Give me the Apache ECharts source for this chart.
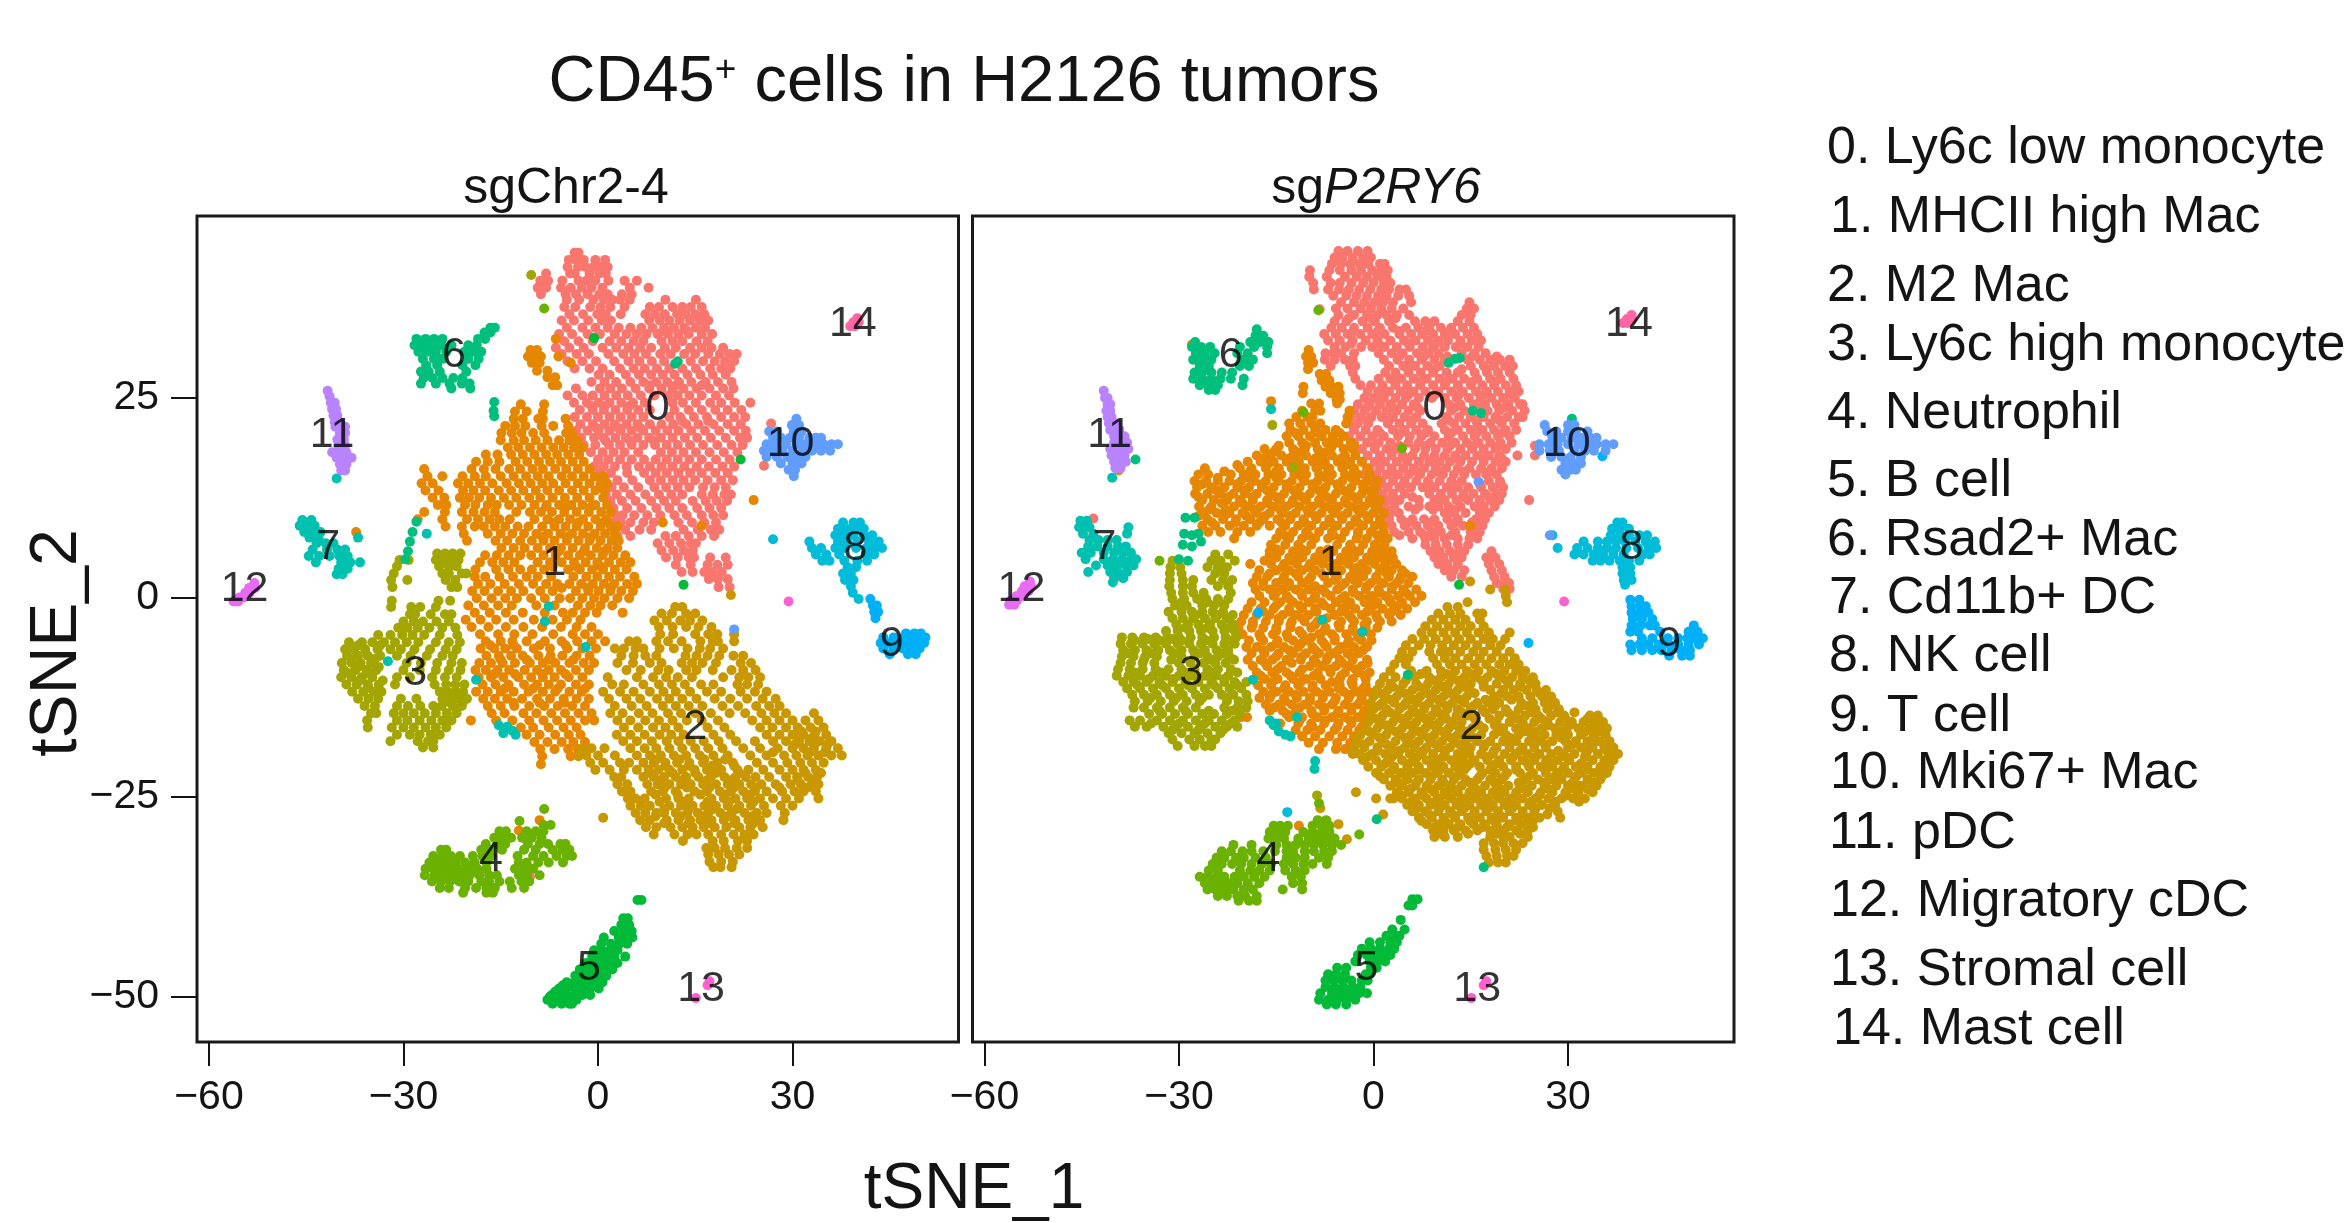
<!DOCTYPE html>
<html><head><meta charset="utf-8"><style>html,body{margin:0;background:#fff}#c{width:2344px;height:1223px}</style>
<script src="https://cdn.jsdelivr.net/npm/echarts@6/dist/echarts.min.js"></script></head><body><div id="c"></div>
<script>
const clusterColors=['#F8766D','#E58700','#C99800','#A3A500','#6BB100','#00BA38','#00BF7D','#00C0AF','#00BCD8','#00B0F6','#619CFF','#B983FF','#E76BF3','#FD61D1','#FF67A4'];
const legendLabels=['0. Ly6c low monocyte','1. MHCII high Mac','2. M2 Mac','3. Ly6c high monocyte','4. Neutrophil','5. B cell','6. Rsad2+ Mac','7. Cd11b+ DC','8. NK cell','9. T cell','10. Mki67+ Mac','11. pDC','12. Migratory cDC','13. Stromal cell','14. Mast cell'];
const xTicks=[-60,-30,0,30];
const yTicks=[-50,-25,0,25];
// rows: [y, x, x, ...]
const L0=[[43.2,-3.6,-3],[42.3,-4.5,-3.4,-2.2,-.4,1.1],[41.4,-4.7,-3.1,-1.9,-.7,.4,1.5],[40.6,-8,-4.3,-3.6,-1.3,.2,1.2],[39.7,-8.9,-7.7,-5.5,-3,-1.8,-.4,1.6,4.1,6],[38.8,-9.3,-8,-5.7,-4.2,-2.5,-1,.7,4.9,7.8],[38,-8.8,-5,-3.4,-1.6,.2,1.5,3.7,5.2],[37.3,-4.8,-2.9,-.7,.9,2.2,3.4,4.9,10.4,15.1],[36.4,-5.2,-3.5,-1.2,.4,1.9,4.1,8,9.4,11.5,13,14.3,16],[35.5,-4.4,-2.3,-.1,1.2,3.5,7.3,8.8,10.3,12.2,13.5,15,16.4],[34.7,-5.6,-3.7,-1.5,.6,2,7.9,9.5,11,12.6,14.2,15.7,17],[33.8,-4.8,-2.4,-.4,1.5,3.2,5,6.7,8.4,10.2,11.7,13.3,15.1,16.5],[33,-6,-4,-1.6,.3,2.6,4.4,6,7.5,9.2,10.8,12.4,14,16,17.6],[32.1,-5.2,-3,-.8,1.8,3.6,5.5,7,9.8,11.5,13,15.2,16.9],[31.3,-6.5,-4.4,-2.2,.7,2.8,4.7,6.5,8.2,10.3,12,14.2,16,17.5,19.3],[30.5,-5.6,-3.3,-1.4,1.6,3.9,5.6,7.4,9.6,11.2,13.3,15,17,18.8,20.3,21.4],[29.6,-4.7,-2.4,-.3,2.5,4.7,6.4,8.3,10.2,14.3,16.2,18,19.6,21],[28.7,-3.6,-1.3,.7,3.4,5.5,7.2,9.1,11,13,15.1,17.3,19,20.4],[27.9,.1,1.8,4.3,6.3,8.2,10,11.8,13.8,15.8,17.7,19.7],[27,-1,1,2.8,5,7,9,10.7,12.5,14.4,16.6,18.5,20.6],[26.2,-3.4,.3,1.9,3.7,5.8,7.9,9.8,11.5,13.2,15.2,17.2,19.3,20.9],[25.3,-4.7,-2.4,-.8,1,2.8,4.6,6.6,8.7,10.8,12.3,14.1,16,18.2,20.2],[24.4,-3.7,-1.7,.1,1.8,3.6,5.4,7.2,11.5,13.1,15.1,17.3,19,21.1,23.5],[23.5,-2.8,-.8,.9,2.7,4.5,6.2,8,11.8,14,16,18.1,20,22.1],[22.6,-3.6,-1.7,0,1.8,3.5,5.2,7,11,12.7,14.8,16.8,19,21,22.7],[21.7,-2.7,-.8,1,2.6,4.4,6.1,8,9.8,11.6,13.6,15.5,17.8,20,22],[20.9,-3.4,-1.6,.1,1.8,3.5,5.2,7,8.9,10.7,12.4,14.4,16.5,18.7,21,22.8],[20,-2.6,-.6,.9,2.7,4.3,6.1,7.9,9.7,11.5,13.4,15.3,17.4,19.7,21.9,23],[19.1,-2.2,-.4,1.7,3.4,5.2,7,8.8,10.6,12.3,14.2,16.2,18.4,20.6,22.3],[18.2,-1.1,.7,2.4,4.1,6.2,9.7,11.4,13.2,15.1,17.2,19.4,21.5],[17.3,0,1.6,3.4,5.2,7.1,8.9,10.6,12.3,14.1,16,18.2,20.3],[16.4,-.6,.9,2.6,4.4,6.3,8,9.8,11.5,13.3,15.2,17.1,19.2,21],[15.6,.4,2,4.5,7.1,8.9,10.6,12.4,14.2,16,18.1,20],[14.7,1.1,3,5.3,8,9.7,11.5,13.2,15,16.9,19,20.8],[13.8,.4,2.1,4,6.2,8.7,10.5,12.3,14.1,16.2,18,19.7],[12.9,1.2,2.9,5,7.3,9.4,11.3,13,16,17.7,19.5,20.5],[12.1,1.9,3.7,5.8,8.2,10.2,12,14.6,16.6,18.3,19.9],[11.2,2.4,4.5,6.7,9,11,13,15.3,17.2,19],[10.3,2.8,3.8,5.6,7.6,9.6,11.8,13.7,16,17.8,19.3],[9.4,2.2,3.5,5,7,8.6,12.4,14.5,16.4,18.2],[8.5,2.6,4.2,6.4,8.2,13.2,15.4,17.4,18.7],[7.7,3,5,10.4,12,14,16,17.9],[6.8,9.2,11,12.8,14.3,15.1],[5.9,9.8,11.6,13.2,14.6],[5,10.5,12.3,14,14.8,17.3,19.7],[4.1,12,14.3,16.9,18.4,20],[3.2,12.9,14.6,16.4,17.7,19.1],[2.3,17.1,18.5,20],[1.3,18.6,20.3],[24,1,4.8,-1],[21.2,-.2,3.2,6.6],[19.6,1.2,5,8.6],[26.6,8,12,16],[33.4,10,13.8],[22.1,13,17]];
const L1=[[32.4,-6.5],[31,-10.4,-9.4],[30.2,-10.8,-9.6,-8.8,-6.1],[29.4,-10.2,-9,-4.2],[28.4,-9.4,-7.8],[27.6,-7.8,-6.6],[26.6,-7,-6.3],[24.2,-11.9,-8.3],[23.3,-12.8,-11,-8.5],[22.4,-13,-11.6,-9.2,-8.5,-5],[21.5,-14.3,-12.8,-11.2,-8.7,-6.9,-4.6],[20.6,-14.9,-13.3,-11.8,-10,-8.3,-4.9,-4],[19.7,-15,-13,-11.4,-9.6,-7.8,-6,-4.4,-3.2],[18.8,-13.9,-12.3,-10.5,-8.7,-6.9,-5.3,-3.7,-2.3],[17.9,-17.3,-15.5,-13.4,-11.6,-9.8,-8,-6.3,-4.6,-2.9],[17,-18.8,-17,-15.2,-12.7,-10.9,-9.1,-7.4,-5.7,-3.9,-2.2],[16.1,-26.8,-19.5,-17.6,-15.8,-13.7,-12,-10.1,-8.5,-6.6,-4.9,-3.1,-1.3],[15.2,-26.3,-24,-20.9,-19,-17.3,-15,-13,-11.1,-9.3,-7.6,-5.6,-4,-2.2,-.5,.8],[14.3,-27.2,-25.5,-21.6,-20,-18.2,-16.3,-14.1,-12.2,-10.4,-8.6,-6.9,-5,-3.1,-1.3,.4,1.4],[13.4,-26.6,-24.6,-20.8,-19.2,-17.4,-15.3,-13.4,-11.5,-9.6,-7.8,-6,-4,-2.2,-.4,1],[12.5,-25.5,-23.7,-21.3,-19.9,-18.3,-16.5,-14.5,-12.6,-10.6,-8.9,-7,-5.1,-3.2,-1.3,.8],[11.6,-24.7,-23.4,-20.5,-18.9,-17,-15.6,-13.7,-11.8,-9.8,-7.9,-6,-4.1,-2.4,-.4,1.4],[10.7,-26.8,-23.6,-21,-19.2,-17.5,-15.9,-12.6,-10.5,-8.8,-7.1,-5.2,-3.3,-1.4,.5,2],[9.8,-24,-20.2,-18.5,-16.7,-15.2,-13.6,-9.8,-7.8,-6,-4.3,-2.3,-.4,1.3],[8.9,-23.5,-21,-19,-17.6,-15.9,-14.3,-12.4,-10.7,-8.6,-6.7,-5,-3.3,-1.5,.4,2,3],[8,-20.7,-17,-15,-13.2,-11.4,-9.5,-7.7,-5.8,-4,-2.3,-.5,1.1,2.6],[7.1,-20.2,-15.8,-14,-12,-10.2,-8.4,-6.7,-4.8,-3,-1.3,.4,2.1,3.2],[6.2,-14.9,-13,-11.3,-9.3,-7.4,-5.7,-3.9,-2,-.2,1.5,3],[5.3,-17.4,-15.6,-13.8,-12,-10.3,-8.4,-6.5,-4.6,-2.8,-1.1,.7,2.4,4.2],[4.4,-18.2,-16.3,-14.6,-12.9,-9.3,-7.4,-5.6,-3.7,-1.9,-.1,1.7,3.5,5],[3.5,-18.9,-15.7,-13.8,-12,-10.2,-8.3,-4.6,-2.8,-.9,.8,2.6,4.4],[2.6,-19,-17.4,-15.2,-13.1,-11,-9.3,-7.2,-3.8,-1.8,-.1,1.7,3.4,5.6],[1.7,-18.5,-16.6,-14.4,-12.2,-10,-8,-6.3,-4.4,-2.6,-.8,.9,2.5,4.5,6],[.8,-19.4,-17.5,-15.4,-13.4,-11.5,-8.9,-7,-3.4,-1.5,.1,1.9,3.6,5.4],[-.1,-18.7,-16.4,-14.3,-12.5,-10.3,-8.2,-5.9,-4.3,-2.4,-.6,1,3,4.8],[-1,-20,-17.6,-15.4,-13.3,-9.5,-6.7,-3.1,-1.2,.4,2.2],[-1.9,-19,-16.7,-14.2,-11.6,-8.2,-5.4,-3.9,-2,-.2,3.8],[-2.8,-20.4,-18.1,-15.7,-13,-9.9,-7,-4.8,-2.7],[-3.7,-19.5,-16.9,-14.2,-11.5,-8.6,-5.7,-3.3,-1],[-4.6,-18.2,-15.4,-12.9,-10.1,-6.9,-3.9,-2,0],[-5.5,-17.3,-15,-13.2,-11,-8.2,-5.6,-3.2,-1,1.1],[-6.4,-18.1,-16,-14.3,-12.5,-9.9,-7.4,-4.7,-2.4,-.3],[-7.3,-17.2,-15.3,-13.4,-11.6,-9.2,-7.3,-5.5,-3.3,-1.3],[-8.2,-18.3,-16.5,-14.7,-12.8,-10.5,-8.5,-6.6,-4.4,-2.2,-.6],[-9.1,-18.9,-17.3,-15.5,-13.7,-11.3,-9.4,-7.6,-5.7,-3.4,-1.4],[-10,-18.4,-16.5,-14.6,-12.3,-10.3,-8.5,-6.7,-4.5,-2.4],[-10.9,-17.8,-15.8,-13.8,-11.4,-9.4,-7.6,-5.7,-3.4,-1.4],[-11.8,-18.8,-17,-15,-13,-10.7,-8.5,-6.6,-4.4,-2.5],[-12.7,-17.7,-15.9,-14,-11.7,-9.4,-7.4,-5.3,-3.3,-1.4],[-13.6,-17,-15,-12.9,-10.6,-8.3,-6.2,-4,-2],[-14.5,-16.4,-14.4,-11.5,-9.5,-7.2,-5.1,-3,-1],[-15.4,-15.7,-19.6,-13.2,-10.6,-8.4,-6.3,-4.2,-2,-.6],[-16.3,-11.9,-10,-7.6,-5.3,-3.3],[-17.2,-11,-9,-6.6,-4.5,-2.7],[-18.1,-9.8,-7.8,-5.6,-3.8,-2],[-19,-8.9,-6.7,-4.6,-3.1],[-19.9,-8.6,-4.2,-3],[-20.9,-8.8],[-6,-16.6,-13,-9,-5],[-7.8,-15,-11,-7.6,-3.8],[-9.6,-16,-12.8,-8.6,-5],[-11.4,-14.4,-10,-6.2,-2],[-13.2,-13,-9,-5.2],[11.4,-8,-4.8,-1],[9.4,-6.8,-3,.8],[7.6,-8.6,-4.8,-1],[5.8,-6,-2.2,1],[3.9,-7,-3.4,.4],[1.2,-5.6,-1.6,2]];
const L2=[[.3,20.5],[-1.2,13,11.9],[-2,9.8,11.4,13.6,15],[-2.9,8.7,10.6,12.7,14.2,16.1],[-3.7,9.4,11.5,13.6,15.5,17.5],[-4.6,9.6,11.6,15,17,18.4,21],[-5.5,4.8,6,9,10.8,12.9,15.8,17.7,18.5,21],[-6.4,2.6,4,5.8,7,9.5,11.7,13.8,15.7,17.3,19.3],[-7.3,3.6,5.5,7.3,9,13.5,15.2,16.9,18.7,20.9,22.4],[-8.2,3,5.4,8,9.8,12.9,14.5,16.1,18.2,22,23.6],[-9.1,4.4,6.6,9.3,10.9,13.6,15.2,17.7,20.6,22.4,24.3],[-10,1.5,6,8.5,10.5,12.3,14.5,19.3,21.8,23.2,25],[-10.9,2.2,4,7,9.4,11.4,13.4,15.9,17.8,21.5,23,24.7],[-11.8,.8,3.4,5.5,8,10.1,12,14.2,16.8,19,22,24.2,26],[-12.7,1.7,4.4,6.5,9.1,11,13,15.2,18,20.4,23,25.4,27.4],[-13.6,2.6,5.2,7.5,10,12,14,16.1,19.2,21.6,24.4,26.4,28],[-14.5,1.9,3.8,6.3,8.4,10.8,12.8,15,17.4,20.3,22.7,25.2,27.2,29,33.3],[-15.4,3,5,7.3,9.4,11.5,13.7,16,18.5,23.8,26,28,30,32,34],[-16.3,4,6.2,8.5,10.4,12.4,16.9,19.5,25,26.9,29,30.8,32.8,34.8],[-17.2,2.9,5,7.2,9.5,11.3,13.2,17.8,20.4,26,28,30,31.7,33.4,35.2],[-18,3.9,6,8.3,10.6,12.4,14.3,16.3,18.6,21.3,24.2,27,29,31,32.6,34.2,36],[-18.9,-2.3,-1,1,5,7.2,9,11,13,15,17,19.2,22.4,25,27.7,30,31.7,33.3,35.2,37],[-19.8,-3,-1.8,0,2.6,6,8,9.7,11.7,13.6,15.7,17.8,20,23.5,26,28.7,30.6,32.3,34,36,37.6],[-20.7,-1.2,.8,3.4,4.8,7,8.6,10.4,12.2,14.1,16.2,18.4,20.8,24.5,27,29.2,31.2,33,34.8],[-21.6,-.4,1.8,4,6,7.8,9.3,11,13,14.9,16.8,19,21.5,23.2,25.5,28,30,31.7,33.6],[-22.5,2.5,3.6,7,8.6,10.2,12,13.6,15.5,17.4,19.5,21.2,22.8,24.3,26.4,29,30.7,32.4,33.8],[-23.4,3,4.5,7.6,9.2,11,12.8,14.3,16.2,18.2,20,21.8,23.6,25.2,27.4,29.7,31.3,33,34],[-24.3,3.7,5,8.2,10,12,14.9,16.8,18.8,20.5,22.4,24.2,26,28.4,30.3,31.7,33.6],[-25.2,4.6,5.8,7.2,10.5,12.4,14,17.5,19.4,21.2,23,25,27,29,31,34],[-26.1,5,6.6,8,11,12.8,14.6,16.4,18.2,20,21.8,23.6,25.6,28.2,30],[-27,5.8,7.3,9,10.2,12,13.8,15.4,17,18.9,20.6,22.6,24.5,26,28.8],[-27.6,.8],[-27.9,6.5,8,10.6,12.4,14.2,15.8,17.5,19.4,21.2,23.2,25,28.6],[-28.8,7.4,9,11.2,13,14.6,16.3,18,19.8,21.8,23.5,25.4],[-29.7,8.6,11.8,13.8,15.2,17,19,20.9,22.6,24],[-30.5,13.1,17.7,19.4,21.6,23],[-31.4,16.7,18,19.6,21.4,23],[-32.2,17,18.6,20.2,21.8],[-33.1,17.2,19,20.8],[-33.8,17.8,18.9,20.6],[-20.3,9,12.6,16.4,19.6],[-21.1,10.4,14,17.6,21],[-22,8,11.5,15,18.2,21.8,32,34.4],[-22.9,9.6,13,16.8,20.4,30.8,33.4],[-23.8,10.3,13.7,17.2,21,24.4,28,32.4],[-24.7,8.9,12.3,15.8,19.6,23.4],[-25.6,9.5,13.3,16.9,20.2,24],[-26.5,10.2,14,17.8,21.4],[-27.4,8.9,12.8,16.4,20,23.8],[-28.3,10.2,14,17.2,21,24],[-19.4,32.7,35,27],[-18.4,30.4,33.4,35.4],[-17.6,31,33],[-16.8,31.4,33.6]];
const L3=[[5.5,-24.8,-23.6,-22.4,-21.2],[4.7,-30.6,-29.2,-25,-23.9,-22.6,-21.5],[3.9,-31,-24.5,-23,-21.8],[3,-31.5,-24,-23,-21,-20.3],[2.2,-31.9,-29.4,-23.5,-22],[1.3,-31.7,-22.6,-21.7],[-.4,-31.8,-24.6,-22.8],[-1.2,-31.9,-28.8,-27.4,-25],[-2.1,-29,-28.2,-25.8,-23.6,-22.6],[-3,-30,-28.4,-27,-24.9,-23],[-3.8,-30.8,-29.4,-27.8,-26,-24,-22],[-4.7,-33.9,-32,-30.2,-28.6,-26.8,-24.4,-21.7],[-5.6,-38.4,-36.4,-34.8,-33,-31.3,-29.5,-27.7,-25,-23,-21.3],[-6.5,-39,-37.6,-35.9,-34,-32,-30.4,-28.3,-25.9,-23.5,-21.8],[-7.3,-38.7,-37,-35.5,-33.6,-31,-28.9,-26.4,-24,-22.4],[-8.2,-39.5,-38,-36.6,-35,-29.5,-27.3,-24.8,-22.6,-21],[-9.1,-39.2,-37.4,-35.7,-34.2,-30,-27.5,-25,-23,-21.2],[-10,-39.6,-38,-36.4,-34.8,-31,-29,-25.6,-23.6,-21.8],[-10.9,-38.8,-37.2,-35.5,-33.8,-31.3,-25.2,-23.4,-22,-20.6],[-11.8,-37.9,-36.2,-34.6,-33.4,-24.4,-23.2,-22,-20.8],[-12.7,-37,-35.4,-33.9,-30.4,-28,-24,-22.8,-21.6,-20.2],[-13.6,-36,-34.4,-31,-29.3,-27.4,-25.4,-24.1,-22.4,-21],[-14.5,-35,-34.2,-31.5,-30,-28.4,-26.7,-25,-23.3,-21.8],[-15.4,-35.6,-31,-29.4,-27.5,-25.7,-24,-22.6],[-16.3,-35.5,-31.8,-30,-28.4,-26.6,-25,-23.4],[-17.2,-31,-29,-27.5,-25.8,-24.4],[-18,-32,-27.8,-26.2,-25.4],[-18.8,-27,-25.4],[-6,-37,-33.6],[-7.7,-38,-34.4],[-8.7,-37,-33.8],[-9.5,-38.4,-35.2],[-10.4,-36.8,-33.2],[-11.3,-35.4],[-12.2,-23.5,-21],[-13.1,-23,-20.8]];
const L4=[[-26.5,-8.3],[-28,-12.1],[-28.5,-7.3,-8.4],[-29.3,-15.2,-14.2,-11,-9.6,-8.4],[-30.1,-16,-14.8,-13.4,-11.7,-10.2,-8.7],[-30.9,-17.3,-15.6,-14.3,-10.8,-9,-7.7,-5.8,-5],[-31.6,-24.2,-23.4,-18,-16.6,-14.8,-11.4,-9.6,-7,-5.5,-4.4],[-32.4,-25.4,-24,-22.7,-21.3,-19.3,-17.8,-16.4,-12.4,-10,-8.4,-6.4,-4.8,-4],[-33.2,-26,-24.8,-23.4,-22,-20.5,-19,-17.2,-12.2,-11,-9.2,-7.6,-5.4],[-34,-26.6,-25.4,-24.2,-23,-21.6,-20.2,-18.6,-17.2,-12.8,-11.4,-10],[-34.8,-26.7,-25.2,-23.9,-22.4,-21,-19.8,-18.3,-16.8,-15.6,-12.2,-11,-9],[-35.6,-25.6,-24.2,-22.8,-21.4,-20,-18,-16.8,-15.2,-13.6,-11.8,-10.6],[-36.4,-24.4,-23,-20.5,-18.8,-17.2,-15.9,-13.3,-11.4],[-37,-20.8,-17.2,-16.2],[-33.6,-25,-22.6,-20],[-34.4,-24.6,-21.8,-19.2],[-35.2,-23.2,-20.4]];
const L5=[[-37.9,6.1,6.7],[-40.2,3.9,4.6],[-41,3.6,4.8],[-41.8,2.5,4,5.2],[-42.6,.9,3.2,4.4,5.3],[-43.4,.5,2,3.3,4.5],[-44.2,-.6,.6,1.8,3],[-45,-.9,.3,1.5,2.5,4.2],[-45.8,-1.8,-.5,.7,1.8,3],[-46.6,-2.8,-1.5,-.3,.9,2.2],[-47.4,-3.5,-2.2,-1,.2,1.3],[-48.2,-4.8,-3.5,-2.4,-1.2,0,.7],[-49,-6,-4.9,-3.6,-2.4,-1.2,.1],[-49.8,-7.1,-6,-4.8,-3.6,-2.4,-1.2],[-50.4,-7.8,-6.7,-5.5,-4.4,-3.3],[-50.9,-7,-5.6,-4.4,-4],[-49.4,-6.6,-5.2,-3],[-48.6,-5.4,-3.6],[-50,-7.4,-5.2,-3.8],[-47,-2.4,-.4],[-46,-1,1]];
const L6=[[33.8,-16.6,-15.9],[33.2,-17.5,-16.6],[32.4,-28,-26.6,-25.3,-24,-18.5,-17.4],[31.6,-28.3,-27,-25.6,-24.2,-22.6,-20,-18.7],[30.8,-27.7,-26.3,-25,-23.4,-20.6,-19.2,-18],[29.9,-27,-25.3,-24,-20,-18.4],[29.1,-26.5,-24.8,-20.9,-18.9],[28.3,-27.3,-26.1,-24.4,-20.3],[27.5,-26.9,-25.5,-24,-22.3,-20.9],[26.8,-27.3,-25,-22.9,-21,-19.8],[26.2,-22.6,-19.7]];
const L7=[[9.7,-45.6,-44.2],[9,-46,-45,-43.7],[8.2,-45.3,-44,-42.8],[7.5,-44.5,-43.1,-37],[6.8,-43.4,-42,-40.8],[6,-44,-41.8,-40.2,-39],[5.2,-44.6,-43,-41.4,-39.9,-38.6],[4.4,-43.5,-39.6,-38.2,-36.7],[3.6,-40,-38.6],[2.9,-40.3,-39.4]];
const L8=[[9.4,37.8,39.4,40.4],[8.6,37,38.3,39.6,41],[7.8,36.6,38,39.4,41,42.3],[7.3,27],[7,32.6,37,38.4,40,41.8,43.3],[6.2,33,34.4,36.6,38,39.8,41.4,42.6,43.8],[5.4,33.6,35.2,37.2,41.3,42.6],[4.6,34.6,35.7,38,40,41.5],[3.8,38.5,39.8],[3,37.8,39],[2.2,38.1,39.4],[1.4,39],[.6,39.3],[-.2,40.2]];
const L9=[[-.2,42],[-1,42.4,43],[-1.8,42.6,43.2],[-2.6,42.8],[-4.5,47.5,48.8,49.8],[-5,44,45.6,47.2,48.4,49.7,50.5],[-5.7,43.6,45,46.4,47.6,49,50.3],[-6.4,44,45.6,47,48.2,49.6],[-7.1,45,47.8,49]];
const L10=[[22.4,30.6],[21.6,29.9,31],[20.8,26.4,27.6,30.2,31.4],[20,27,28.2,29.6,31,32.6,33.6,34.4],[19.2,26,27.4,29,30.6,32,33.5,34.8,36,37],[18.4,25.6,27,28.4,30,31.6,33,34.4,35.8],[17.6,26,27.6,29.2,30.6,32],[16.8,28.2,30,31.4],[16,29.4,30.4],[15.2,30.2]];
const L11=[[25.9,-41.7],[25.2,-41.4],[24.4,-41.2,-40.6],[23.6,-41,-40.4],[22.8,-40.8,-40.2],[22,-40.6,-39.9],[21.4,-40.5,-39.6,-39],[20.6,-39.8,-39],[19.8,-40.2,-39.2],[19,-40,-39],[18.2,-41,-39.8,-38.8],[17.5,-40.3,-39.2,-38],[16.7,-39.8,-38.8],[15.9,-39.6,-39]];
const L12=[[1.8,-53],[1.2,-53.8,-52.9],[.6,-54.4,-53.7],[0,-55.3,-54.6],[-.5,-56.2,-55.5]];
const L13=[[-48.1,17.2],[-48.6,16.9],[-50.2,15.1]];
const L14=[[35,40],[34.5,39.4,40.2],[34,38.9,39.6]];
// stray cells of the first panel: cluster, x, y
const Lstray=[[3,-10.3,40.4],[4,-8.3,36.2],[5,-.6,32.5],[6,12.3,29.6],[6,11.9,29.3],[5,22,17.3],[1,24,12.2],[13,29.4,-.5],[7,-26.4,8],[6,-28,9.5],[6,-28.6,8.2],[6,-29,7],[6,-29.3,5.8],[6,-29.7,4.8],[1,-27.8,9.8],[6,-16,24.5],[6,-16.1,23.4],[6,-16,22.7],[7,-40.3,14.9],[5,13.2,1.6],[7,-7.6,-1.1],[7,-8.2,-3],[7,-1.9,-6.2],[7,-32.4,-8],[7,-18.8,-10.3],[7,-15.3,-16],[7,-14,-16.2],[7,-14.6,-17],[7,-13.2,-16.7],[7,-12.7,-17.2],[1,-9,-27.9],[1,-12.2,-29.2],[0,-10.5,-35],[10,21,-4],[0,26.7,21.8],[0,25.6,16.5],[1,10,9.4],[1,16,9],[1,-37.3,8.2]];
const R0=[[43.4,-5.4,-4,-2.4,-.9],[42.6,-6,-4.8,-3.2,-1.6,-.4],[41.8,-6.4,-5,-3.6,-2.2,-.8,1,1.7],[41,-9.8,-6.8,-5.2,-3.4,-1.9,-.2,1.2,2.2],[40.2,-9.9,-7.2,-4.4,-2.6,-1,.6,2],[39.4,-9.3,-6.6,-5.2,-3.4,-1.6,0,1.6,2.6],[38.6,-9.2,-7,-5.3,-3.8,-2.2,-.5,1.2,2.4,4,5],[37.8,-6.2,-4.2,-2.6,-1,.7,2,3.8,5.5],[37,-5,-3,-1.4,.1,1.5,3,5.8,14.8],[36.2,-5.8,-4,-2,-.4,1.2,2.8,4.6,14.4,15.5],[35.4,-5.4,-3,-1,.6,2,3.6,5.5,13.6,15],[34.6,-6,-4.2,-1.7,.2,2.4,6.4,8,9.4,13,14.8],[33.8,-6.5,-4.9,-3,-.9,1,3,5,6.9,8.6,10.4,12,13.8,15.5],[33,-7.6,-5.8,-4,-2,-.2,1.7,4,5.8,7.5,9.2,11,12.6,14.5,16],[32.2,-7,-5.2,-3.2,-1.2,.6,2.6,4.7,6.5,8.4,10,11.5,13.4,15.2,16.6],[31.4,-6,-4.3,-1.9,-.2,1.7,3.6,5.6,7.6,9.2,11,12.7,14.5,16.2],[30.6,-7.4,-6.2,-5,-3,.8,2.8,4.5,6.7,8.5,10,13.6,15.6,17.3],[29.8,-7.5,-6,-4.4,-3.2,1.6,3.7,5.5,7.4,9.4,11,14.5,16.4,18,19.5,21],[29,-6.6,-3.6,-2.8,2.4,4.6,6.4,8.3,10.2,15,17,18.6,20.3,21.5],[28.2,-3.2,1.8,3.4,5.4,7.3,9.2,11.3,13,15.6,17.5,19.2,21],[27.4,-2.8,.8,2.6,4.3,6.2,8.2,10.2,12.2,14,16,18,19.6,21.6],[26.6,-2,-.4,1.4,3.4,5.2,7.2,9.2,11,13,15,16.8,18.6,20.4,22],[25.8,-.9,.7,2.4,4.2,6.2,8,10,12,13.8,15.8,17.5,19.2,21,22.4],[25,-1.4,.1,1.6,3.4,5,7,9,11,12.8,14.7,16.5,18.2,20,21.8],[24.2,-2.4,-.6,1,2.6,4.4,6.2,11.6,13.4,15.5,17.2,19,20.8,22.6,23],[23.4,-3,-1.4,.4,2,3.6,5.4,7.2,12,14,17.6,19.4,21.4,23.3],[22.6,-3.5,-2,-.3,1.3,3,4.8,6.6,11.2,13.2,15,17,18.8,20.6,22.4,23],[21.8,-3.8,-2.4,-.8,2.2,4,5.8,7.6,10.5,12.4,14.2,16,18,19.8,21.7],[21,-3,-1.2,.6,3,4.8,6.6,8.4,11,13,15,16.8,18.6,20.4,22],[20.2,-3.8,-2,-.2,1.6,3.8,5.6,7.4,9.4,11.6,13.8,15.6,17.4,19.2,21],[19.4,-3,-1,.8,2.6,5.4,7,8.8,10.6,12.6,14.4,16.2,18,19.6,21.3],[18.6,-1.8,.2,2,3.4,6.4,8,9.6,11.4,13.4,15.2,17,18.8,20.4],[17.8,-.9,1,2.8,4.5,6,7.8,9.4,11,12.6,14.2,16,17.8,19.4,22.2],[17,-1.8,.2,1.8,3.6,5.2,7,8.6,10.2,11.8,13.4,15.2,17,18.8,20.4],[16.2,-.6,1,2.8,4.6,6.2,7.8,9.6,11.2,13,14.8,16.6,18.2,19.8],[15.4,-1.4,.4,2,3.8,5.4,7.2,9,10.7,12.4,14,15.8,17.4,19],[14.6,-.4,1.2,3,4.8,6.6,8.4,10.2,12,13.6,17.8,19.5],[13.8,.6,2.2,4,5.8,7.6,9.4,11.3,13,14.6,16.6,18.4,20],[13,-.2,1.4,3,4.8,8.6,10.4,12.1,13.9,15.4,17.2,19,19.8],[12.2,.8,2.4,4,7,9.4,11,12.8,14.6,16.4,18,19.4,24],[11.4,1.6,3.2,5.4,7,8.6,10,11.6,13.4,15.6,17,18.7],[10.6,2.6,3.9,11,12.4,14.2,16.4,17.8],[9.8,2.4,4.3,6,7.8,9.4,11.4,13,15.8,17.2],[9,2.8,4.8,6.6,8.4,10,12,13.8,15.4,16.8],[8.2,3.2,5.4,7.2,9,10.4,12.6,15,16.4],[7.4,6,8,9.4,11,13,14.8,16],[6.6,8,9.6,11.3,13,14.6],[5.8,8.8,10.2,11.8,13.2,14,18.2],[5,9.4,10.8,12.4,13.6,17.4,18.8],[4.2,10,11.4,13,17.8,19.4],[3.4,11,12.4,14,18.2,19.8],[2.6,12,13.6,18.6,20.2],[1.8,19,20.4,20.9],[1.1,20,21],[35,-3.8,-.4,3.4],[33.4,-3,.7,4,8,11.7],[31.8,-3.4,.8,5.4,9.6,13.4],[30.2,4,7.8,11.4,15.2,19],[28.6,5.4,9.4,13.6,17.4],[27,3.3,7.2,11.2,15.2,18.8],[25.4,1.6,5.4,9.4,13.2,17,21],[23.8,-1,3,6.8,12.6,16.2,20.2],[22.2,-1,2.4,6,11.6,15.8,19.4],[20.6,1,4.2,8,12,15.9,19.8],[19,.2,4,8,11.8,15.4,19.3],[17.4,1,5,9.2,12.8,17,19.8],[15.8,2.8,6.6,10,14,18],[14.2,1,4.6,8.6,12.4,16.4,19.6],[12.6,3,6,10.2,13.8,17.8],[11,2,6.4,9.2,12.6,16.4],[9.4,5.4,8.8,12.6,15.2],[7.8,4,7.8,12,15.2]];
const R1=[[31,-10],[30.2,-10.4,-9.6],[29.4,-10.1,-9.3],[28.6,-10.1],[28,-8.3,-7.3],[27.2,-8,-6.8],[26.4,-10.8,-7.4,-6.4,-5.4],[25.6,-10.9,-6.6,-5.2],[24.8,-5.7,-5.2],[24.3,-5.6,-9.6,-8.4],[23.4,-11,-9,-8.2,-3.7],[22.6,-11.9,-10.2,-9.4,-4],[21.8,-13,-11.3,-9.6,-8.2,-4.2],[21,-12.8,-10.8,-9,-7.4,-5.8],[20.2,-13.4,-11.6,-9.8,-8,-6.3,-4.6],[19.4,-13,-11,-9,-7.2,-5.4,-3.5],[18.6,-16.8,-15,-12.4,-10.6,-8.6,-6.6,-4.6,-3.2],[17.8,-18,-16.4,-14.2,-12.4,-10.4,-8.4,-6.4,-4.4,-2.8],[17,-19.4,-17.4,-15.4,-13.4,-11.5,-9.4,-7.5,-5.5,-3.6,-1.8],[16.2,-26,-20.6,-18.8,-16.6,-14.6,-12.6,-10.6,-8.8,-6.8,-4.8,-3,-1],[15.4,-27,-25.5,-22,-20,-18.2,-16.2,-14.2,-12.2,-10.4,-8.4,-6.4,-4.4,-2.4,-.6],[14.6,-27.6,-25.8,-24,-22.2,-20.4,-18.4,-16.6,-14.6,-12.6,-10.6,-8.6,-6.8,-4.8,-2.8,-1,.6],[13.8,-27.2,-25,-23,-21,-19.2,-17.2,-15.4,-13.4,-11.4,-9.4,-7.4,-5.4,-3.4,-1.6,.3],[13,-27.5,-25.6,-23.6,-21.6,-19.8,-18,-15.8,-13.8,-11.8,-9.8,-7.8,-5.8,-3.8,-1.8,0],[12.2,-26.4,-24.6,-22.6,-20.6,-18.6,-16.4,-14.4,-12.4,-10.4,-8.4,-6.4,-4.4,-2.4,-.6,1],[11.4,-26.9,-25,-21.5,-19.4,-17.4,-15.4,-13.4,-11.4,-9.4,-7.4,-5.4,-3.4,-1.4,.6],[10.6,-26.2,-24.2,-22.2,-20.2,-18,-16,-14,-12,-10,-8,-6,-4,-2,0,1.6],[9.8,-25.6,-23.2,-21.2,-19,-17,-14.8,-12.8,-10.8,-8.8,-6.8,-4.8,-2.8,-.8,1],[9,-26.4,-24.4,-22.2,-20,-18,-16,-13.6,-11.6,-9.6,-7.6,-5.6,-3.6,-1.6,.2,1.4],[8.2,-25.5,-23.6,-21,-19,-14.4,-12.4,-10.4,-8.4,-6.4,-4.4,-2.4,-.4,1.6],[7.4,-21.5,-15,-13,-11,-9,-7,-5,-2.6,-1,.9,2.2],[6.6,-15.8,-13.6,-11.6,-9.6,-5.6,-3.6,-1.6,.2,1.7],[5.8,-16,-14.4,-12.4,-10.4,-8.2,-6.2,-4.2,-2.2,-.2,1.5,2.8],[5,-15,-13,-11,-9,-7,-5,-3,-1,.8,2.2,3],[4.2,-19,-15.8,-13.8,-11.8,-9.8,-7.8,-5.8,-3.8,-1.8,.2,1.8,3.5],[3.4,-17.6,-15,-13,-11,-9,-5,-3,-1,1,2.8,4.4],[2.6,-18,-16.4,-13.8,-11.6,-9.6,-7.6,-5.6,-3.6,-1.6,.4,2.4,4.2,6],[1.8,-18.6,-17,-15,-13,-11,-7,-4.4,-2.4,-.4,1.6,3.6,5.4],[1,-18.2,-16,-14,-12,-10,-8,-5.6,-3.2,-1.2,.8,2.8,4.6,6.6],[.2,-17.6,-15.4,-13.4,-11,-9,-6.6,-4.4,-2.2,-.2,1.8,3.8,5.6,7.4],[-.6,-18.8,-16.8,-14.4,-12.4,-10,-8,-5.8,-3.6,-1.4,.6,2.6,4.4,6.4],[-1.4,-19.4,-17.4,-15.4,-13,-11,-9,-6.6,-4.8,-2.8,-.6,1.4,3.4,5.2],[-2.2,-20,-18,-16,-14,-12,-10,-6,-3.8,-1.8,.4,2.4,4.2],[-3,-20.4,-18.6,-16.6,-14.6,-12.6,-10.6,-8.6,-5,-3,-1,1,2.8],[-3.8,-20.8,-18.8,-17,-15,-12.8,-9.6,-7.4,-5.2,-3.2,-1.2,.6],[-4.6,-20.2,-17.6,-15.5,-13.4,-11,-8.4,-6.4,-4.2,-2.2,-.4],[-5.4,-19.2,-17,-14.8,-12.4,-10.2,-8,-6,-3.8,-1.8,-.3],[-6.2,-19.6,-18,-15.8,-13.8,-11.6,-9.4,-7.2,-5,-3,-1],[-7,-18.8,-16.8,-14.6,-12.4,-10.4,-8.4,-6.2,-4,-2.2],[-7.8,-19.4,-17.4,-15.6,-13.4,-11.2,-9.2,-7.2,-5.2,-3.2,-1],[-8.6,-18.6,-16.4,-14.2,-9.8,-7.8,-5.8,-3.8,-1.8],[-9.4,-18,-15.6,-13.4,-11.4,-8.6,-6.6,-4.4,-2.4,-.6],[-10.2,-16.8,-14.8,-12.4,-10.4,-8.2,-5.2,-3.2,-1.2],[-11,-17.8,-15.8,-13.6,-11.6,-9.4,-7.4,-5.2,-3.2,-1.2],[-11.8,-17,-15,-13,-10.8,-8.8,-6.8,-4.6,-2.6,-.8],[-12.6,-17.6,-16,-13.8,-11.8,-9.8,-7.8,-5.8,-3.8,-1.8],[-13.4,-16.6,-14.6,-12.6,-10.6,-8.4,-6.4,-4.4,-2.4,-.8],[-14.2,-16,-14,-12,-9.6,-7.6,-5.4,-3.4,-1.4],[-15,-19.5,-20.4,-13,-11,-8.6,-6.4,-4.4,-2.4,-.8],[-15.8,-14.4,-11.6,-9.6,-7.6,-5.4,-3.4,-1.4],[-16.6,-12,-10.2,-8.2,-6,-4,-2.2],[-17.4,-11,-9,-6.8,-4.8,-3],[-18.2,-10,-7.8,-5.6,-3.6],[-19,-8.4,-5.8,-4.4,-3.6],[-28.6,-11.5],[15,-24,-19.3,-15,-11,-7.3,-3.4],[14.2,-26.4,-21,-17.3,-13.4,-9.4,-5.6,-1.6],[13.4,-24.2,-20,-16.4,-12.3,-8.4,-4.6,-.6],[12.6,-27,-22.4,-18.6,-15,-11,-7.2,-3],[11.8,-23.4,-20.2,-16.3,-12.6,-8.3,-4.2,-.2],[11,-25.4,-22.8,-18.4,-14.4,-10.2,-6.4,-2.4,.4],[10.2,-27,-23,-19.6,-16.7,-12.9,-9,-5,-1],[9.4,-24.9,-21.3,-17.6,-14.2,-10.6,-6.6,-2.4],[7.8,-13.7,-10,-6.2,-2.4,.6],[6,-14.9,-11,-7,-3.2,1],[5.4,-16,-12,-8,-4,0,2],[4.6,-16.8,-12.6,-8.6,-4.7,-.8,2.9],[3.8,-14,-10,-6.6,-2.4,1.6],[3,-16,-12,-8,-6,-2.2,2,4.9],[2.2,-14,-10,-6,-3,.6,4],[1.4,-17,-13,-9,-5,-1,3],[.6,-15,-11.2,-7.4,-3,1,5],[-.2,-13,-9.2,-5,-1,2.4],[-1,-15,-11.4,-7.6,-4,0,3.8],[-1.8,-17,-13,-8.8,-5,-1,2.8],[-2.6,-14.6,-11,-7.2,-3.4,.6],[-3.4,-18.6,-12.8,-9,-5.4,-1.4],[-4.2,-15,-11.4,-7.6,-3.2],[-5,-17.4,-13.2,-9.6,-6,-2.4],[-5.8,-15,-11.2,-7.6,-4],[-6.6,-17,-13,-9,-5.4,-1.6],[-7.4,-15,-11,-7,-3.4],[-8.2,-16.7,-12.6,-8.8,-4.8,-.9],[-9,-14.8,-11,-6.8,-2.8],[-9.8,-17.4,-12.8,-9.2,-5,-1.4],[-10.6,-15.6,-11.2,-6.4,-3.4],[-11.4,-13.8,-9.4,-5.4,-1.6],[-12.2,-15.8,-12,-7.8,-3.6],[-13,-13.6,-9.8,-6,-2],[-13.8,-15.4,-11.4,-7.6,-3.4],[-14.6,-13.4,-9.4,-5.6,-1.6],[-15.4,-11.4,-7.4,-3.6],[-16.2,-9.4,-5.6,-1.8],[20.6,-12,-8.6,-5.2],[19,-14.6,-10.4,-6.4,-3],[18.2,-15.4,-11.4,-7.4],[17.4,-17,-13,-9,-5],[16.6,-21,-16.4,-12,-8,-4.2],[15.8,-23,-19,-15,-11,-7,-3]];
const R2=[[2,14.9],[1,18,20.3],[.2,20.4],[-.6,14.5,20.6],[-1.2,11.4,13],[-2,10,11.8,13.4,16,16.8],[-2.8,9,10.8,12.6,14.2,16.4],[-3.6,8,9.8,11.6,13.4,15,17],[-4.4,7.4,9,10.8,12.6,14.4,16.2,17.8,21],[-5.2,6,7.8,9.6,11.4,13.2,15,17,18.4,20.3],[-6,5,7,8.8,10.6,12.4,14.2,16,18,19.6],[-6.8,4.4,6,8.6,10.4,11.6,13.4,15.4,17,19,21],[-7.6,4,5.4,9.2,11,12.6,14.6,16.4,18.2,20,21.8],[-8.4,3.2,5,9.8,11.8,13.6,15.6,17.4,19.4,21,22.4],[-9.2,2.6,5.8,8.2,10.4,12.6,14.4,16.2,18.2,20.2,22,23.4],[-10,1.6,3.4,6.4,8.6,10.4,12,14,15.8,17.6,19.6,21.4,23,24.6],[-10.8,1,2.6,4.6,6.6,8.4,10,11.6,13.4,15,17,19,20.8,22.6,24.4,25],[-11.6,.5,2.2,4,6,8,9.6,11.4,13,14.8,18,20,21.6,23.6,25.2,26.6],[-12.4,0,1.8,3.6,5.4,7.2,9,10.8,12.6,14.4,18.6,20.6,22.4,24.2,26,27.4],[-13.2,-.4,1.4,3.2,5,6.8,8.6,10.4,12.2,14,16,17.8,19.4,22.8,24.6,26.4,28],[-14,0,2,4,6,7.8,9.6,11.4,13,15,16.8,18.4,20.4,22.4,25,26.8,28.6],[-14.8,-.6,1.4,3.4,5.4,7.2,9,11,12.8,14.6,19.4,21.4,23.4,25.4,27.4,29.4,33.4,34.6],[-15.6,-.8,1,3,4.8,6.6,8.4,10.2,12,13.6,19,21,23,24.8,26.8,28.8,30.6,32.4,34,35.4],[-16.4,-1.2,.6,2.4,4.4,6.2,8,9.8,11.6,13.4,15.2,17,20,22,24,26,28,29.8,31.6,33.4,35.2,36],[-17.2,-2,0,2,4,5.8,7.6,9.4,11.2,13,14.8,16.6,18.6,20.4,22.4,24.4,26.4,28.2,30,32,34,35.8],[-18,-2.6,-.6,1.4,3.4,5.2,7,8.8,10.6,12.4,14.2,16,18,20,22,24,25.8,27.6,29.6,31.2,33,34.8,36.4],[-18.8,-3,-1.4,.6,2.8,4.8,6.4,8.2,10,11.8,15,17,19,21,23,24.8,26.6,30,32,33.8,35.6,37],[-19.6,-3.2,-2.2,-.2,1.8,3.8,5.6,7.4,9.2,11,13,14.8,16.6,18.4,20.2,22,23.8,25.6,27.4,29.2,31,32.8,34.6,36.6,37.7],[-20.4,-1.6,.4,2.4,4.4,6.4,8.2,10,12,13.8,15.6,17.6,19.4,21.2,23,24.8,26.6,28.4,30.2,33.8,35.6,37],[-21.2,-.8,1.2,3.2,5.2,7,9,10.8,12.6,14.4,16.4,18.2,20,22,24,25.8,27.6,29.4,31.2,33,35,36.4],[-22,.4,2.4,4.2,6,8,9.8,11.6,13.4,16.8,18.8,20.6,22.6,24.6,26.6,28.4,30,32,34,36],[-22.8,1.6,3.4,5.2,7,8.8,10.6,12.4,14.2,16,18,19.8,23.4,25.4,27.2,29,31,33,35],[-23.6,2.6,4.4,6.4,8.2,10,11.8,13.6,15.4,17.2,19,20.8,22.6,24.4,26.4,28.2,30,32,34.4],[-24.4,-2.7,3.6,5.4,7.4,9.4,11,13,14.8,16.6,18.4,20.2,22,23.8,25.8,27.6,29.6,31.6,33.8],[-25.2,.4,2.6,3.1,4.4,6.4,8.2,10.2,12,14,15.8,17.6,19.4,21.2,23,25,27,29,30.8,32.6],[-26,5.2,7,8.8,11,12.8,14.8,16.6,18.4,20.2,22,24,26,28],[-26.4,-8.2],[-26.8,6,8,10,11.8,13.6,15.6,17.4,19.2,21,23,24.8,28.4],[-27.2,1.5],[-27.6,7,9,10.8,12.6,14.6,16.4,18.2,20,22,23.8,25.6,28.8],[-28.4,-5.4,8.2,10,11.6,13.4,15.4,17.2,19,21,22.8,24.2],[-29.2,9.2,10.8,12.4,14.2,16,18,20,22,23.8],[-30,9.4,11,13,18,20,21,23.8],[-30.3,-4.1],[-30.8,17,18.6,20,21.6,23],[-31.6,17,18.8,20.4,22],[-32.4,17.4,19,20.6,21.6],[-33.2,17.8,19.2,20.4],[-9.6,7.3,11.3,15,19,23],[-10.4,5,9.4,13,16.7,20.5,24],[-11.2,3,7,10.7,14,17,22.7],[-12,1,4.8,8.3,11.8,15.6,19.7,25.6],[-12.8,2.7,6.2,10,13.5,17.3,21.3,26.8],[-13.6,.8,4.6,8,11.3,15.4,18.8,23.7,27.2],[-14.4,2.5,6.4,10,13.6,17.2,20.7,24.4,28.4,31],[-15.2,.3,4.3,8,11.2,15.6,17.9,22.2,25.9,29.6,33],[-16,1.9,5.7,9.2,12.7,16.3,18.7,23.1,27,30.3,34.3],[-16.8,-.7,3.4,7,10.7,14.2,19.5,23.3,25.2,29,32.7,35],[-17.6,1,4.9,8.5,12,15.5,21.2,24.9,29,33.9],[-18.4,-1.6,2,6,9.6,13.2,17.2,20.9,26.5,30.8,35.8],[-19.2,.7,4,7.7,11,14,18.6,22.6,28.5,33,36],[-20,-1,2.8,6.7,10.7,13.4,17.4,21.5,25,29.7,32.6,36.3],[-20.8,1.8,5.6,9.1,13,15,19,23.8,27.5,32,35.8],[-21.6,3,7,10.2,14,18,22,26.5,29.2,33,35],[-22.4,1,5,9,12.8,16.4,20.2,24,28,31.3,35.2],[-23.2,3.8,6.6,10.8,14.9,18.7,22.4,26.3,30.7,34],[-24,5.7,8.8,12.4,15.8,19.6,23.3,27,31,33],[-24.8,4.2,7.6,11.4,15,18.8,22,25.6,29.8],[-25.6,5.8,9.5,13.2,16.9,20.6,24.3,28,31.7],[-26.4,6.8,10.2,14,17.8,21.4,25,27.2],[-27.2,8.6,12.2,15.5,19.4,23,26.8],[-28,7.4,11,14.9,18.6,22.2,24.6],[-28.8,9.4,13,16.8,20.6,24.6],[-29.6,10.4,14.6,19,22.6]];
const R3=[[5.4,-24.4,-22.4],[4.6,-31,-25,-23.6,-21.4],[3.8,-31.3,-29.8,-25.6,-24,-22.6],[3,-31.4,-29.6,-24.4,-23],[2.2,-31.4,-29.4,-27.8,-25,-23.2,-21.8],[1.4,-31.5,-29.4,-28,-24,-22.4],[.6,-31.2,-29.4,-27.8,-26.2,-22],[-.2,-31,-29.2,-27.2,-25.8,-24,-22.4],[-1,-30.6,-28.8,-26.4,-24.6,-23],[-1.8,-31.6,-29.6,-28,-26.4,-24.8,-23.2],[-2.6,-31,-29.4,-27.8,-26,-24.4,-22.6],[-3.4,-30.4,-28.6,-27,-25.2,-23.4,-21.6],[-4.2,-32,-30.2,-28.4,-26.6,-24.8,-23,-21.4],[-5,-38.8,-37.2,-35.4,-33.6,-31.8,-30,-28.2,-26.4,-24.6,-22.8,-21.2],[-5.8,-39,-37.4,-35.6,-33.8,-32,-30.2,-28.4,-26.6,-24.8,-23,-21.4],[-6.6,-38.6,-36.8,-35,-33.2,-31.4,-29.6,-27.8,-26,-24.2,-22.4],[-7.4,-38.8,-37,-35.2,-33.4,-29.6,-27.6,-25.6,-24,-22.2],[-8.2,-39,-37.4,-35.6,-33.8,-30,-28.2,-26.2,-24.4,-22.8],[-9,-39.4,-37.6,-35.6,-33.6,-31.6,-29.6,-27.6,-25.6,-24,-22],[-9.8,-39.6,-37.8,-36,-34,-32,-30,-28,-26,-24.2,-22.4],[-10.6,-38.6,-37,-35,-33,-31,-29,-27,-25,-23,-21.4,-19.6],[-11.4,-38,-36,-34,-32,-30,-28,-26,-24,-22.2,-20.4],[-12.2,-37.2,-35.4,-33.4,-31.4,-29.4,-27.4,-25.4,-23.4,-21.6,-19.6],[-13,-36.8,-34.8,-32.8,-30.8,-28.8,-26.8,-22.6,-20.8,-19.4],[-13.8,-37,-35.4,-33.4,-31.4,-29.4,-27.4,-23,-21,-19.6],[-14.6,-34.6,-32.6,-30.6,-28.6,-26.4,-24.6,-22.6,-20.6],[-15.4,-37.6,-36,-33.4,-31.4,-29.4,-27.4,-25.4,-23.4,-21.4],[-16.2,-36.8,-35,-32.4,-30.6,-28.6,-26.6,-24.4,-22.6,-21],[-17,-31.6,-29.6,-27.6,-25.6,-23.6],[-17.8,-31,-28.4,-26.8,-25,-24.4],[-18.6,-30.2,-27.6,-26,-25],[-.6,-29.6,-25.6,-23.8],[-2.2,-27.4,-24,-21.7],[-3.8,-29,-25.6,-22.2],[-5.4,-36.8,-33,-29.6,-25.8,-22.2],[-7,-37.8,-34.2,-30.4,-26.8,-23.2],[-7.8,-35.4,-31.2,-25,-21.5],[-9.4,-36.8,-32.8,-29,-25,-21],[-11,-36.4,-32.6,-28.6,-24.6,-21],[-12.6,-34.4,-30.4,-26.4,-22.6],[-14.2,-33,-29,-25.4,-21.8],[-15.8,-34.3,-30,-26,-22],[-16.6,-31,-27,-23.2],[-5.2,-34.8,-31],[-10.2,-34.6,-30.8,-27,-23]];
const R4=[[-27.9,-7.3,-8.6],[-28.6,-15.4,-14.4,-13.2,-9.4,-8,-6.8],[-29.4,-16,-14.8,-13.6,-10.8,-9.4,-8,-6.8],[-30.2,-16.2,-15,-13.8,-11.6,-10,-8.6,-7.2,-6],[-31,-21.6,-18.8,-15,-13.4,-12,-10.6,-9.2,-7.8,-6.4,-5],[-31.8,-23.4,-22,-20.2,-18.8,-17,-15.2,-13.4,-12.4,-10.6,-9.2,-7.6,-6.4],[-32.6,-24.2,-23,-21.2,-20,-18.2,-16.6,-13.4,-12,-10.6,-8.4,-7],[-33.4,-24.8,-23.4,-21.8,-20.4,-18.8,-17.2,-15.8,-13.8,-12.4,-10.8,-9.4,-7.2],[-34.2,-25.4,-24,-20.6,-19,-17.6,-16,-13.6,-12,-10.6],[-35,-26.8,-25.6,-24.2,-23,-21.4,-20,-18.4,-16.8,-12.6,-11.2],[-35.8,-26,-25,-23.8,-22.4,-21,-19.4,-17.6,-12.4,-11],[-36.6,-25.6,-24.4,-23,-21.6,-20,-18.6,-14,-11],[-37.4,-24,-22.6,-21,-19.8,-18],[-38,-20.8,-19.2,-18]];
const R5=[[-37.8,6.8,6],[-38.6,6,5.4],[-40.4,4.2],[-41.6,2.9,4.8],[-42.4,2,3.4,4],[-43.2,-.6,1,2.6,3.6],[-44,-1.8,-.4,1,2.4,3.2],[-44.8,-2.4,-1,.4,1.6,2.6],[-45.6,-2.8,-.6,.6,1.8],[-46.4,-5.6,-4.2,-.4,.5],[-47.2,-7,-5.8,-4.4,-.6,-1.2],[-48,-7.4,-6.2,-4.8,-3.4,-1.8,-.9],[-48.8,-7.4,-6,-4.6,-3.2,-2],[-49.6,-8.2,-6.4,-5,-3.6,-2.2,-1],[-50.4,-8.4,-7,-5.6,-4.2,-2.8],[-51,-7.2,-5.8,-4.2]];
const R6=[[33.6,-18],[32.8,-18.2,-17],[32,-27.5,-19,-17.6,-16.2],[31.4,-28,-26.6,-25.2,-20.6,-18.4,-16.4],[30.6,-27.4,-26,-24.5,-21,-19.4,-16.4],[29.8,-27.8,-26.4,-25,-20,-18.6],[29,-26.8,-25.4,-20.6,-19.2],[28.2,-27.6,-26.4,-25,-23.4,-21.8],[27.4,-27.8,-26.4,-25,-23.6,-22,-20],[26.6,-26.8,-25.4,-24,-20.2],[26,-25.4,-24.4]];
const R7=[[9.6,-45.2,-44.2],[8.8,-45.4,-44.6,-43.8,-37.8],[8,-44.8,-43.2,-38],[7.2,-43.8,-42.4,-41,-39.6],[6.4,-44,-42.6,-41,-39.4,-38.2],[5.6,-45,-43.6,-41.6,-40,-38.6,-37.4],[4.8,-44.4,-41.6,-40.2,-38.8,-37.4,-36.6],[4,-42.8,-41,-39.6,-38.2,-37],[3.2,-44,-40.6,-39.4,-38],[2.4,-40,-38.6],[1.9,-40.2]];
const R8=[[9.4,37.6,38.4],[8.6,36.8,38,39.4],[7.8,27.6,36.6,38,39.4,41,42.2],[7,32.4,34.6,36,37.4,38.8,40.4,42,43.4],[6.2,28.4,31.4,33,34.6,36,37.4,39,40.8,42.4,43.6],[5.4,31,32.4,34,35.4,37,38.6,41.6,42.6],[4.6,33.8,35,36.4,38,39.4,41],[3.8,38.4,39.6],[3,38.4,39.6],[2.2,38.6,39.8],[1.6,38.8]];
const R9=[[-.3,39.6,41],[-1.1,39.8,41.2,42],[-1.9,39.8,41,42.4],[-2.7,40,41.4,43],[-3.5,39.8,41.2,42.6,43.4,49.4],[-4.3,39.6,40.8,44.2,48.6,50],[-5.1,41.4,43,45.4,47,48.4,49.6,50.8],[-5.9,39.6,41,42.4,44,45.6,47,48.6,50.2],[-6.6,39.8,41.4,43,44.4,46,47.4,48.8],[-7.3,45.6,47.6,48.8]];
const R10=[[21.6,26.4,30,31],[20.8,26.8,28.2,30,31.2,33],[20,27.6,29,30.6,32,33.4,34.4],[19.2,25.6,27,28.4,30,31.6,33,34.4,35.8,37],[18.4,25.6,27.2,28.6,31,32.6,34,35.8],[17.6,27.4,29,30.4,32],[16.8,29.6,31,32],[16,29,30.4,31.2],[15.4,29.6]];
const R11=[[25.9,-41.6],[25,-41.4,-41],[24.2,-41,-40.6],[23.4,-41.2,-40.6],[22.6,-41,-40.4],[21.8,-40.8,-40.2,-39.6],[21,-40.6,-39.8,-39.2],[20.2,-40,-39.2,-38.4],[19.4,-40,-39,-38],[18.6,-40.6,-39.6,-38.6,-37.8],[17.8,-40.4,-39.4,-38.4],[17,-40,-39,-38.2],[16.2,-39.8,-39]];
const R12=[[2,-53],[1.4,-53.8,-52.8],[.8,-54.2,-53.2],[.2,-55,-54.2],[-.4,-56,-55],[-.9,-56.2,-55.4]];
const R13=[[-48.1,17.4],[-48.6,17],[-50.2,15.1]];
const R14=[[35.4,39.8],[34.9,39.1,39.9],[34.4,38.5,39.2]];
const Rstray=[[1,-28,31.7],[4,-8.5,36],[0,-8.3,36.1],[7,-15.8,23.6],[1,-15.8,24.6],[3,-15.6,21.6],[4,-10.8,23.2],[4,4.4,18.7],[3,-12.3,16.3],[6,12.6,29.9],[6,11.6,29.4],[6,13.3,30],[6,15.3,23.4],[6,16.6,23.1],[10,16.2,14.5],[7,-40.3,15],[6,-36.7,17.3],[1,-39.3,15.9],[6,-29,10],[6,-27.6,10],[6,-29.2,8],[6,-28,7.8],[6,-27,8],[6,-29.4,6.6],[6,-28,6.4],[6,-26.6,7],[6,-30,4.8],[6,-28.6,4.6],[4,-33,4.6],[5,13.2,1.6],[9,-17.8,-1.9],[7,-7.9,-2.8],[7,-1.7,-4.3],[9,23.9,-5.7],[6,5.3,-9.7],[7,-18.6,-10.3],[7,-16,-15.4],[7,-15.4,-16],[7,-14.6,-16.8],[7,-13.6,-17.2],[7,-12.8,-17.4],[7,-15,-15.8],[7,-11.8,-15],[7,-9,-20.5],[7,-9.1,-21.5],[3,-8.7,-24.8],[4,-8.4,-25.8],[8,-13.3,-26.9],[6,.5,-27.8],[4,-2.2,-29.7],[6,17,-33.8],[0,-43.2,9.9],[0,24.9,19],[0,24.9,17.8],[9,35.3,17.7],[13,29.4,-.5],[1,14.9,9],[6,30.6,22.4],[10,27.2,7.8]];
const labelNames=['0','1','2','3','4','5','6','7','8','9','10','11','12','13','14'];
const Llabels=[[9.2,23.7],[-6.7,4.3],[15,-16.2],[-28.2,-9.5],[-16.5,-32.8],[-1.4,-46.4],[-22.2,30.4],[-41.6,6.3],[39.7,6.2],[45.3,-5.8],[29.7,19.2],[-41,20.3],[-54.5,1.1],[15.9,-49.1],[39.3,34.2]];
const Rlabels=[[9.4,23.7],[-6.6,4.3],[15.1,-16.2],[-28.1,-9.5],[-16.2,-32.8],[-1.1,-46.4],[-22,30.4],[-41.5,6.3],[39.8,6.3],[45.6,-5.8],[29.8,19.2],[-40.7,20.3],[-54.3,1.1],[16,-49.1],[39.4,34.2]];

const Lrows=[L0,L1,L2,L3,L4,L5,L6,L7,L8,L9,L10,L11,L12,L13,L14];
const Rrows=[R0,R1,R2,R3,R4,R5,R6,R7,R8,R9,R10,R11,R12,R13,R14];
const font='"Liberation Sans",Arial,sans-serif';
const ink='#141414';
const fmt=v=>String(v).replace('-','\u2212');
function series(rows,stray,g,labels){
  const out=rows.map((rs,i)=>{
    const d=[];
    rs.forEach(r=>{for(let k=1;k<r.length;k++)d.push([r[k],r[0]]);});
    stray.filter(s=>s[0]===i).forEach(s=>d.push([s[1],s[2]]));
    return {type:'scatter',name:labelNames[i],xAxisIndex:g,yAxisIndex:g,data:d,symbolSize:10,silent:true,large:false,progressive:0,
      itemStyle:{color:clusterColors[i],opacity:1},emphasis:{disabled:true}};
  });
  out.push({type:'scatter',xAxisIndex:g,yAxisIndex:g,z:20,silent:true,symbolSize:1,itemStyle:{color:'rgba(0,0,0,0)'},
    data:labels.map((p,i)=>({value:p,name:labelNames[i]})),
    label:{show:true,position:'inside',offset:[-1,3],formatter:'{b}',color:'#000',fontFamily:font,fontSize:43},labelLayout:{hideOverlap:false}});
  return out;
}
const xAx=g=>({gridIndex:g,type:'value',min:-61.84,max:55.6,splitLine:{show:false},axisLine:{show:false,onZero:false},
  axisTick:{show:true,length:24,lineStyle:{color:ink,width:2},customValues:xTicks},
  axisLabel:{show:true,margin:35,color:ink,fontFamily:font,fontSize:41,customValues:xTicks,formatter:fmt}});
const yAx=g=>({gridIndex:g,type:'value',min:-55.7,max:47.8,splitLine:{show:false},axisLine:{show:false,onZero:false},
  axisTick:{show:g===0,length:26,lineStyle:{color:ink,width:2},customValues:yTicks},
  axisLabel:{show:g===0,margin:38,padding:[6,0,0,0],color:ink,fontFamily:font,fontSize:41,customValues:yTicks,formatter:fmt}});
const legendX=[1827,1830,1827,1827,1827,1827,1827,1829,1829,1829,1830,1829,1830,1830,1833];
const legendY=[149,218,287,346,414,482,541,599,657,717,774,834,902,971,1030];
const txt=(text,x,y,size,extra)=>({type:'text',silent:true,rotation:extra&&extra.rotation||0,x,y,z:30,style:Object.assign({text,fill:ink,font:size+'px '+font,align:'center',verticalAlign:'middle'},extra&&extra.style||{})});
const graphic=[
  txt('{a|CD45}{s|+}{a| cells in H2126 tumors}',964,83,65,{style:{rich:{a:{fontSize:65,fontFamily:font,fill:ink},s:{fontSize:37,fontFamily:font,fill:ink,padding:[0,0,24,0]}}}}),
  txt('sgChr2-4',566,189,50),
  txt('{a|sg}{i|P2RY6}',1376,189,50,{style:{rich:{a:{fontSize:50,fontFamily:font,fill:ink},i:{fontSize:50,fontFamily:font,fontStyle:'italic',fill:ink}}}}),
  txt('tSNE_1',974,1190,64),
  txt('tSNE_2',58,643,66,{rotation:Math.PI/2})
].concat(legendLabels.map((t,i)=>txt(t,legendX[i],legendY[i],52,{style:{align:'left'}})));
const chart=echarts.init(document.getElementById('c'),null,{renderer:'canvas'});
chart.setOption({
  animation:false,backgroundColor:'#fff',
  grid:[{left:197,top:216,width:761.5,height:826,show:true,borderColor:'#1a1a1a',borderWidth:3,backgroundColor:'transparent'},
        {left:972.5,top:216,width:761.5,height:826,show:true,borderColor:'#1a1a1a',borderWidth:3,backgroundColor:'transparent'}],
  xAxis:[xAx(0),xAx(1)],yAxis:[yAx(0),yAx(1)],
  series:series(Lrows,Lstray,0,Llabels).concat(series(Rrows,Rstray,1,Rlabels)),
  graphic
});
</script></body></html>
